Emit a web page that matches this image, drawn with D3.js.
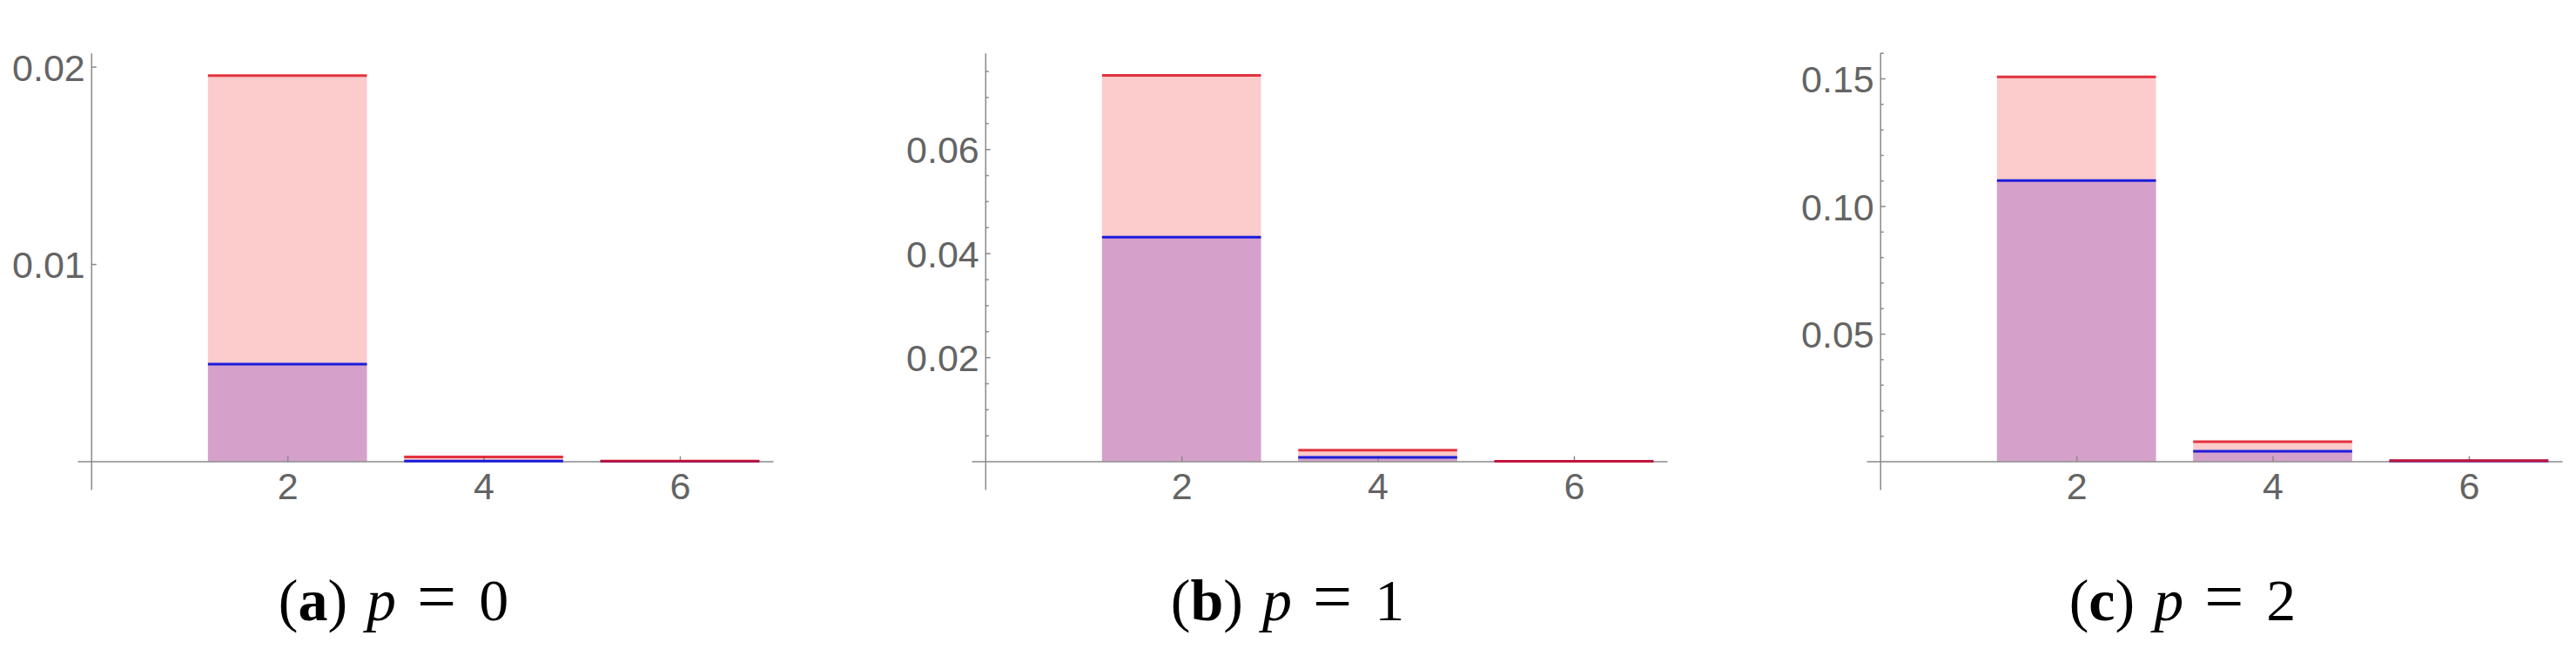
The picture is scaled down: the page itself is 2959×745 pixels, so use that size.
<!DOCTYPE html>
<html>
<head>
<meta charset="utf-8">
<script src="https://cdn.jsdelivr.net/npm/d3@7"></script>
<style>
  body { margin: 0; background: #fff; }
  .tick text { fill: #646464; font-family: "Liberation Sans", Arial, sans-serif; font-size: 43px; }
  .axis path, .axis line { stroke: #8a8a8a; stroke-width: 1.5px; }
  .caption { font-family: "Liberation Serif", "Times New Roman", serif; font-size: 68px; fill: #000; }
</style>
</head>
<body>
<div id="chart"></div>
<script>
// data
var categories = [2, 4, 6];

var redA = [0.01955, 0.00023, 0.00001];
var blueA = [0.00493, 0.00001, 0.0];
var redB = [0.0742, 0.00214, 0.00002];
var blueB = [0.0431, 0.00077, 0.00001];
var redC = [0.1506, 0.00767, 0.0003];
var blueC = [0.1100, 0.00399, 0.0002];

var yTicksA = [0.01, 0.02];
var yTicksB = [0.02, 0.04, 0.06];
var yTicksC = [0.05, 0.10, 0.15];
var yLabelsA = ["0.01", "0.02"];
var yLabelsB = ["0.02", "0.04", "0.06"];
var yLabelsC = ["0.05", "0.10", "0.15"];

var captionLetters = ["a", "b", "c"];
var captionP = ["0", "1", "2"];

var panels = [
  {red: redA, blue: blueA, ticks: yTicksA, labels: yLabelsA, yMax: 0.0207, minorStep: 0},
  {red: redB, blue: blueB, ticks: yTicksB, labels: yLabelsB, yMax: 0.0785, minorStep: 0.005},
  {red: redC, blue: blueC, ticks: yTicksC, labels: yLabelsC, yMax: 0.16, minorStep: 0.01}
];

// layout
var W = 2959, H = 745;
var panelLeft = [89, 1116, 2144],
    panelWidth = 799,
    plotTop = 60.7,
    plotBottom = 562,
    zeroY = 529.6,
    barWidth = 1.62;

var svg = d3.select("#chart")
  .append("svg")
    .attr("width", W)
    .attr("height", H)
    .style("background", "#fff");

panels.forEach(function(p, i) {
  var g = svg.append("g");

  // x scale: from a bit left of 0 to just under 7
  var x = d3.scaleLinear()
      .domain([-0.14, 6.95])
      .range([panelLeft[i], panelLeft[i] + panelWidth]);

  // y scale: zero sits a bit above the bottom of the axis line
  var yMin = -p.yMax * (plotBottom - zeroY) / (zeroY - plotTop);
  var y = d3.scaleLinear()
      .domain([yMin, p.yMax])
      .range([plotBottom, plotTop]);

  // pink bars (red series)
  g.selectAll("rect.red")
    .data(categories)
    .enter()
    .append("rect")
      .attr("class", "red")
      .attr("x", function(d) { return x(d - barWidth / 2); })
      .attr("width", function(d) { return x(d + barWidth / 2) - x(d - barWidth / 2); })
      .attr("y", function(d, j) { return y(p.red[j]); })
      .attr("height", function(d, j) { return y(0) - y(p.red[j]); })
      .style("fill", "#fccbcb");

  // purple bars (blue series, overlapping)
  g.selectAll("rect.blue")
    .data(categories)
    .enter()
    .append("rect")
      .attr("class", "blue")
      .attr("x", function(d) { return x(d - barWidth / 2); })
      .attr("width", function(d) { return x(d + barWidth / 2) - x(d - barWidth / 2); })
      .attr("y", function(d, j) { return y(p.blue[j]); })
      .attr("height", function(d, j) { return y(0) - y(p.blue[j]); })
      .style("fill", "#d5a1cb");

  // x axis
  var xAxis = g.append("g")
      .attr("class", "axis")
      .attr("transform", "translate(0," + y(0) + ")")
      .call(d3.axisBottom(x).tickValues(categories).tickSize(-6).tickSizeOuter(0).tickPadding(12));
  xAxis.selectAll("text").attr("dy", "0.72em");

  // y axis
  var yAxis = g.append("g")
      .attr("class", "axis")
      .attr("transform", "translate(" + x(0) + ",0)")
      .call(d3.axisLeft(y)
        .tickValues(p.ticks)
        .tickFormat(function(d, j) { return p.labels[j]; })
        .tickSize(-6)
        .tickSizeOuter(0)
        .tickPadding(7));
  yAxis.selectAll("text").attr("dy", "0.36em");

  // minor ticks
  if (p.minorStep > 0) {
    var minor = d3.range(p.minorStep, p.yMax + 1e-9, p.minorStep).filter(function(v) {
      return !p.ticks.some(function(t) { return Math.abs(t - v) < 1e-9; });
    });
    var mAxis = g.append("g")
        .attr("class", "axis")
        .attr("transform", "translate(" + x(0) + ",0)")
        .call(d3.axisLeft(y).tickValues(minor).tickFormat("").tickSize(-4).tickSizeOuter(0));
    mAxis.select(".domain").remove();
  }

  // blue lines first, red on top
  g.selectAll("line.blue-line")
    .data(categories)
    .enter()
    .append("line")
      .attr("x1", function(d) { return x(d - barWidth / 2); })
      .attr("x2", function(d) { return x(d + barWidth / 2); })
      .attr("y1", function(d, j) { return y(p.blue[j]); })
      .attr("y2", function(d, j) { return y(p.blue[j]); })
      .style("stroke", "#1c1cdc")
      .style("stroke-width", 3);

  g.selectAll("line.red-line")
    .data(categories)
    .enter()
    .append("line")
      .attr("x1", function(d) { return x(d - barWidth / 2); })
      .attr("x2", function(d) { return x(d + barWidth / 2); })
      .attr("y1", function(d, j) { return y(p.red[j]); })
      .attr("y2", function(d, j) { return y(p.red[j]); })
      .style("stroke", "#de1420")
      .style("stroke-opacity", 0.85)
      .style("stroke-width", 3);

  // caption
  var cap = svg.append("text")
      .attr("class", "caption")
      .attr("x", panelLeft[i] + 363)
      .attr("y", 712)
      .attr("text-anchor", "middle");
  cap.append("tspan").text("(");
  cap.append("tspan").style("font-weight", "bold").text(captionLetters[i]);
  cap.append("tspan").text(")");
  cap.append("tspan").attr("dx", 22).style("font-style", "italic").text("p");
  cap.append("tspan").attr("dx", 24).style("font-size", "80px").text("=");
  cap.append("tspan").attr("dx", 26).text(captionP[i]);
});
</script>
</body>
</html>
